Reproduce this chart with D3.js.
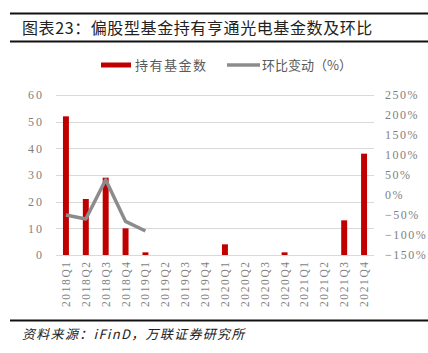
<!DOCTYPE html>
<html>
<head>
<meta charset="utf-8">
<script src="https://cdn.jsdelivr.net/npm/d3@7"></script>
<style>
  body { margin: 0; background: #fff; }
  svg { display: block; }
</style>
</head>
<body>
<div id="chart"></div>
<script>
// data
var quarters = ["2018Q1", "2018Q2", "2018Q3", "2018Q4", "2019Q1", "2019Q2", "2019Q3", "2019Q4",
    "2020Q1", "2020Q2", "2020Q3", "2020Q4", "2021Q1", "2021Q2", "2021Q3", "2021Q4"];
var fundCount = [52, 21, 29, 10, 1, 0, 0, 0, 4, 0, 0, 1, 0, 0, 13, 38];
// QoQ change (%), only drawn for the first five quarters
var qoqQuarters = ["2018Q1", "2018Q2", "2018Q3", "2018Q4", "2019Q1"];
var qoqChange = [-50, -60, 38, -66, -90];
var leftTicks = [0, 10, 20, 30, 40, 50, 60];
var rightTicks = [-150, -100, -50, 0, 50, 100, 150, 200, 250];

var W = 428, H = 353;
var margin = {top: 95, right: 54, bottom: 98, left: 56};

var svg = d3.select("#chart").append("svg")
    .attr("width", W)
    .attr("height", H);

var x = d3.scaleBand()
    .domain(quarters)
    .range([margin.left, W - margin.right])
    .paddingInner(0.7)
    .paddingOuter(0.35);

var y = d3.scaleLinear()
    .domain([0, 60])
    .range([H - margin.bottom, margin.top]);

var y2 = d3.scaleLinear()
    .domain([-150, 250])
    .range([H - margin.bottom, margin.top]);

var tickFont = "'Liberation Serif', 'DejaVu Serif', serif";
var cjk = "'Noto Sans CJK SC', sans-serif";

// title block
svg.append("line")
    .attr("x1", 10).attr("x2", W).attr("y1", 13.5).attr("y2", 13.5)
    .style("stroke", "#111").style("stroke-width", 2);
svg.append("text")
    .attr("x", 22).attr("y", 34)
    .style("font-family", cjk)
    .style("font-size", "16px")
    .style("letter-spacing", "0.6px")
    .style("fill", "#222")
    .text("图表23：偏股型基金持有亨通光电基金数及环比");
svg.append("line")
    .attr("x1", 10).attr("x2", W).attr("y1", 41.5).attr("y2", 41.5)
    .style("stroke", "#111").style("stroke-width", 2);

// legend
var legend = svg.append("g");
legend.append("rect")
    .attr("x", 101).attr("y", 62.5).attr("width", 30).attr("height", 5)
    .style("fill", "#c00000");
legend.append("text")
    .attr("x", 135).attr("y", 70)
    .style("font-family", cjk).style("font-size", "13px").style("fill", "#595959")
    .style("letter-spacing", "1.5px")
    .text("持有基金数");
legend.append("line")
    .attr("x1", 227).attr("x2", 260).attr("y1", 65).attr("y2", 65)
    .style("stroke", "#8c8c8c").style("stroke-width", 3.5);
legend.append("text")
    .attr("x", 262).attr("y", 70)
    .style("font-family", cjk).style("font-size", "13px").style("fill", "#595959")
    .text("环比变动（%）");

// gridlines
svg.append("g")
    .selectAll("line")
    .data(leftTicks)
    .enter().append("line")
    .attr("x1", margin.left)
    .attr("x2", W - margin.right)
    .attr("y1", function (d) { return Math.round(y(d)) + 0.5; })
    .attr("y2", function (d) { return Math.round(y(d)) + 0.5; })
    .style("stroke", "#d9d9d9")
    .style("stroke-width", 1);

// left axis
var leftAxis = svg.append("g")
    .attr("transform", "translate(" + (margin.left - 12) + ",0)")
    .call(d3.axisLeft(y).tickValues(leftTicks).tickSize(0).tickPadding(0));
leftAxis.select(".domain").remove();
leftAxis.selectAll("text")
    .style("font-family", tickFont).style("font-size", "12px")
    .style("fill", "#7f7f7f").style("letter-spacing", "2px");

// right axis
var rightAxis = svg.append("g")
    .attr("transform", "translate(" + (W - margin.right + 11) + ",0)")
    .call(d3.axisRight(y2).tickValues(rightTicks).tickSize(0).tickPadding(0)
        .tickFormat(function (d) { return d + "%"; }));
rightAxis.select(".domain").remove();
rightAxis.selectAll("text")
    .text(function (d) { return (d < 0 ? "\u2212" + (-d) : d) + "%"; })
    .style("font-family", tickFont).style("font-size", "12px")
    .style("fill", "#7f7f7f").style("letter-spacing", "1.5px");

// bottom axis labels, rotated
var bottomAxis = svg.append("g")
    .attr("transform", "translate(0," + (H - margin.bottom) + ")")
    .call(d3.axisBottom(x).tickSize(0).tickPadding(0));
bottomAxis.select(".domain").remove();
bottomAxis.selectAll("text")
    .attr("transform", "rotate(-90)")
    .attr("x", -52)
    .attr("y", 0)
    .attr("dy", "0.35em")
    .style("text-anchor", "start")
    .style("font-family", tickFont).style("font-size", "11.5px")
    .style("fill", "#7f7f7f").style("letter-spacing", "1.6px");

// bars
svg.append("g")
    .selectAll("rect")
    .data(fundCount)
    .enter().append("rect")
    .attr("x", function (d, i) { return x(quarters[i]); })
    .attr("width", x.bandwidth())
    .attr("y", function (d) { return y(d); })
    .attr("height", function (d) { return y(0) - y(d); })
    .style("fill", "#c00000");

// QoQ line
var line = d3.line()
    .x(function (d, i) { return x(qoqQuarters[i]) + x.bandwidth() / 2; })
    .y(function (d) { return y2(d); });

svg.append("path")
    .datum(qoqChange)
    .attr("d", line)
    .style("fill", "none")
    .style("stroke", "#8c8c8c")
    .style("stroke-width", 3.5)
    .style("stroke-linejoin", "round");

// source
svg.append("line")
    .attr("x1", 10).attr("x2", W).attr("y1", 320.5).attr("y2", 320.5)
    .style("stroke", "#111").style("stroke-width", 2);
svg.append("text")
    .attr("x", 22).attr("y", 339)
    .style("font-family", cjk)
    .style("font-size", "13px")
    .style("font-style", "italic")
    .style("letter-spacing", "1.3px")
    .style("fill", "#222")
    .text("资料来源：iFinD，万联证券研究所");
</script>
</body>
</html>
